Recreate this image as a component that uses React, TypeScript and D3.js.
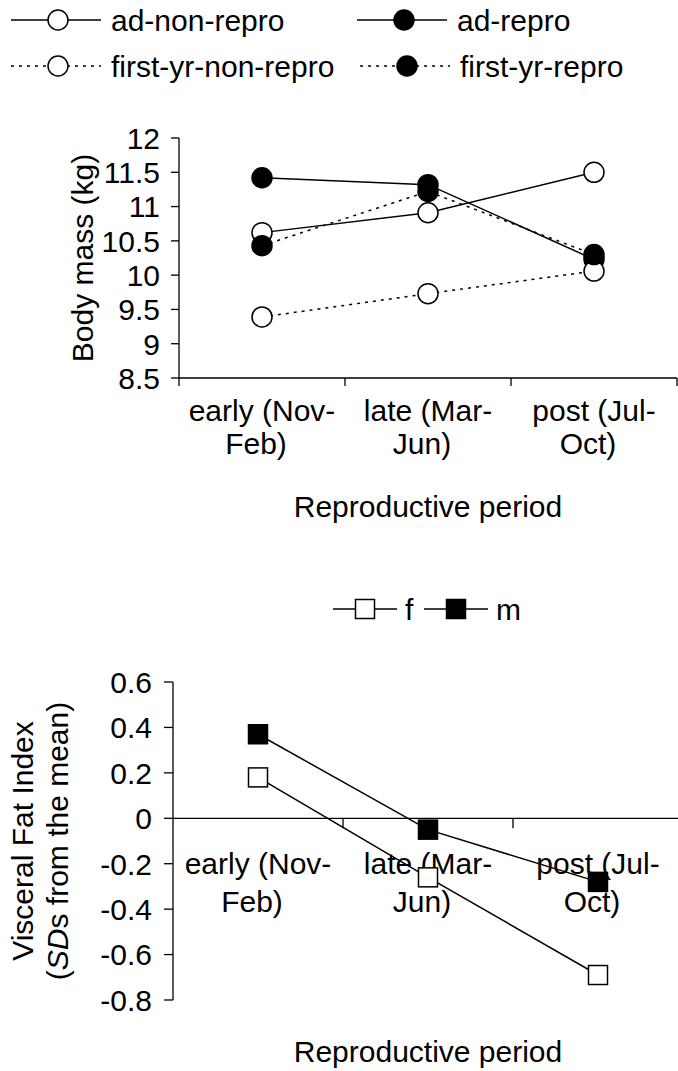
import React, { useEffect, useRef } from "react";
import * as d3 from "d3";

const periods = ["early", "late", "post"];
const periodLines = [
  ["early (Nov-", "Feb)"],
  ["late (Mar-", "Jun)"],
  ["post (Jul-", "Oct)"],
];

const adNonRepro = [10.62, 10.91, 11.5];
const adRepro = [11.42, 11.32, 10.23];
const firstYrNonRepro = [9.39, 9.73, 10.06];
const firstYrRepro = [10.43, 11.22, 10.3];
const massTicks = [8.5, 9, 9.5, 10, 10.5, 11, 11.5, 12];

const femaleFat = [0.18, -0.26, -0.69];
const maleFat = [0.37, -0.05, -0.28];
const fatTicks = [-0.8, -0.6, -0.4, -0.2, 0, 0.2, 0.4, 0.6];

const FONT = "'Liberation Sans', Arial, Helvetica, sans-serif";
const FS = 30;

const App = () => {
  const ref = useRef<SVGSVGElement>(null);

  useEffect(() => {
    const svg = d3.select(ref.current);
    svg.selectAll("*").remove();
    svg.style("font-family", FONT);

    // ---------- top chart: body mass ----------
    const top = svg.append("g");
    const x1 = d3.scaleBand().domain(periods).range([179, 677]);
    const y1 = d3.scaleLinear().domain([8.5, 12]).range([378, 138]);

    // y axis
    top.append("line").attr("x1", 179).attr("x2", 179).attr("y1", y1(12)).attr("y2", y1(8.5) + 8).attr("stroke", "#000").attr("stroke-width", 1.3);
    massTicks.forEach((t) => {
      top.append("line").attr("x1", 171).attr("x2", 179).attr("y1", y1(t)).attr("y2", y1(t)).attr("stroke", "#000").attr("stroke-width", 1.3);
      top.append("text").attr("x", 160).attr("y", y1(t)).attr("dy", "0.36em").attr("text-anchor", "end").style("font-size", FS + "px").text(String(t));
    });
    // x axis
    top.append("line").attr("x1", 179).attr("x2", 677).attr("y1", y1(8.5)).attr("y2", y1(8.5)).attr("stroke", "#000").attr("stroke-width", 1.3);
    periods.forEach((p, i) => {
      const bx = x1(p)! + x1.bandwidth();
      top.append("line").attr("x1", bx).attr("x2", bx).attr("y1", y1(8.5)).attr("y2", y1(8.5) + 8).attr("stroke", "#000").attr("stroke-width", 1.3);
      const cx = x1(p)! + x1.bandwidth() / 2;
      top.append("text").attr("x", cx).attr("y", 421).attr("text-anchor", "middle").style("font-size", FS + "px").text(periodLines[i][0]);
      top.append("text").attr("x", cx - 6).attr("y", 454).attr("text-anchor", "middle").style("font-size", FS + "px").text(periodLines[i][1]);
    });
    top.append("text").attr("x", 428).attr("y", 517).attr("text-anchor", "middle").style("font-size", FS + "px").text("Reproductive period");
    top.append("text").attr("transform", `translate(93,${y1(10.25)}) rotate(-90)`).attr("text-anchor", "middle").style("font-size", FS + "px").text("Body mass (kg)");

    const massSeries = [
      { name: "ad-non-repro", values: adNonRepro, filled: false, dotted: false },
      { name: "ad-repro", values: adRepro, filled: true, dotted: false },
      { name: "first-yr-non-repro", values: firstYrNonRepro, filled: false, dotted: true },
      { name: "first-yr-repro", values: firstYrRepro, filled: true, dotted: true },
    ];
    const line1 = d3
      .line<number>()
      .x((d, i) => x1(periods[i])! + x1.bandwidth() / 2)
      .y((d) => y1(d));

    massSeries.forEach((s) => {
      top.append("path").datum(s.values).attr("d", line1).attr("fill", "none").attr("stroke", "#000").attr("stroke-width", 1.5).attr("stroke-dasharray", s.dotted ? "3,5" : null);
    });
    massSeries.forEach((s) => {
      s.values.forEach((v, i) => {
        top.append("circle").attr("cx", x1(periods[i])! + x1.bandwidth() / 2).attr("cy", y1(v)).attr("r", 10).attr("fill", s.filled ? "#000" : "#fff").attr("stroke", "#000").attr("stroke-width", 1.5);
      });
    });

    // legend
    const legPos = [
      { x: 11, y: 20 },
      { x: 357, y: 20 },
      { x: 11, y: 66 },
      { x: 360, y: 66 },
    ];
    massSeries.forEach((s, i) => {
      const g = top.append("g").attr("transform", `translate(${legPos[i].x},${legPos[i].y})`);
      g.append("line").attr("x1", 0).attr("x2", 90).attr("y1", 0).attr("y2", 0).attr("stroke", "#000").attr("stroke-width", 1.5).attr("stroke-dasharray", s.dotted ? "3,5" : null);
      g.append("circle").attr("cx", 47).attr("cy", 0).attr("r", 10).attr("fill", s.filled ? "#000" : "#fff").attr("stroke", "#000").attr("stroke-width", 1.5);
      g.append("text").attr("x", 100).attr("y", 0).attr("dy", "0.36em").style("font-size", FS + "px").text(s.name);
    });

    // ---------- bottom chart: visceral fat ----------
    const bot = svg.append("g");
    const x2 = d3.scaleBand().domain(periods).range([173, 683]);
    const y2 = d3.scaleLinear().domain([-0.8, 0.6]).range([1000, 682]);

    bot.append("line").attr("x1", 173).attr("x2", 173).attr("y1", y2(0.6)).attr("y2", y2(-0.8)).attr("stroke", "#000").attr("stroke-width", 1.3);
    fatTicks.forEach((t) => {
      bot.append("line").attr("x1", 164).attr("x2", 173).attr("y1", y2(t)).attr("y2", y2(t)).attr("stroke", "#000").attr("stroke-width", 1.3);
      bot.append("text").attr("x", 152).attr("y", y2(t)).attr("dy", "0.36em").attr("text-anchor", "end").style("font-size", FS + "px").text(String(t));
    });
    bot.append("line").attr("x1", 173).attr("x2", 683).attr("y1", y2(0)).attr("y2", y2(0)).attr("stroke", "#000").attr("stroke-width", 1.3);
    periods.forEach((p, i) => {
      const bx = x2(p)! + x2.bandwidth();
      bot.append("line").attr("x1", bx).attr("x2", bx).attr("y1", y2(0)).attr("y2", y2(0) + 10).attr("stroke", "#000").attr("stroke-width", 1.3);
      const cx = x2(p)! + x2.bandwidth() / 2;
      bot.append("text").attr("x", cx).attr("y", 874).attr("text-anchor", "middle").style("font-size", FS + "px").text(periodLines[i][0]);
      bot.append("text").attr("x", cx - 6).attr("y", 912).attr("text-anchor", "middle").style("font-size", FS + "px").text(periodLines[i][1]);
    });
    bot.append("text").attr("x", 428).attr("y", 1062).attr("text-anchor", "middle").style("font-size", FS + "px").text("Reproductive period");

    const yl = bot.append("text").attr("transform", `translate(33,${y2(-0.1)}) rotate(-90)`).attr("text-anchor", "middle").style("font-size", FS + "px");
    yl.append("tspan").attr("x", 0).attr("y", 0).text("Visceral Fat Index");
    const l2 = yl.append("tspan").attr("x", 0).attr("y", 35);
    l2.append("tspan").text("(");
    l2.append("tspan").style("font-style", "italic").text("SD");
    l2.append("tspan").text("s from the mean)");

    const fatSeries = [
      { name: "f", values: femaleFat, filled: false },
      { name: "m", values: maleFat, filled: true },
    ];
    const line2 = d3
      .line<number>()
      .x((d, i) => x2(periods[i])! + x2.bandwidth() / 2)
      .y((d) => y2(d));
    const sq = 19;
    fatSeries.forEach((s) => {
      bot.append("path").datum(s.values).attr("d", line2).attr("fill", "none").attr("stroke", "#000").attr("stroke-width", 1.5);
    });
    fatSeries.forEach((s) => {
      s.values.forEach((v, i) => {
        bot.append("rect").attr("x", x2(periods[i])! + x2.bandwidth() / 2 - sq / 2).attr("y", y2(v) - sq / 2).attr("width", sq).attr("height", sq).attr("fill", s.filled ? "#000" : "#fff").attr("stroke", "#000").attr("stroke-width", 1.5);
      });
    });

    const fatLeg = [333, 424];
    fatSeries.forEach((s, i) => {
      const g = bot.append("g").attr("transform", `translate(${fatLeg[i]},609)`);
      g.append("line").attr("x1", 0).attr("x2", 64).attr("y1", 0).attr("y2", 0).attr("stroke", "#000").attr("stroke-width", 1.5);
      g.append("rect").attr("x", 32 - sq / 2).attr("y", -sq / 2).attr("width", sq).attr("height", sq).attr("fill", s.filled ? "#000" : "#fff").attr("stroke", "#000").attr("stroke-width", 1.5);
      g.append("text").attr("x", 72).attr("y", 0).attr("dy", "0.36em").style("font-size", FS + "px").text(s.name);
    });
  }, []);

  return (
    <div style={{ position: "absolute", left: 0, top: 0 }}>
      <svg ref={ref} width={678} height={1071} style={{ display: "block", background: "#fff" }} />
    </div>
  );
};

export default App;
